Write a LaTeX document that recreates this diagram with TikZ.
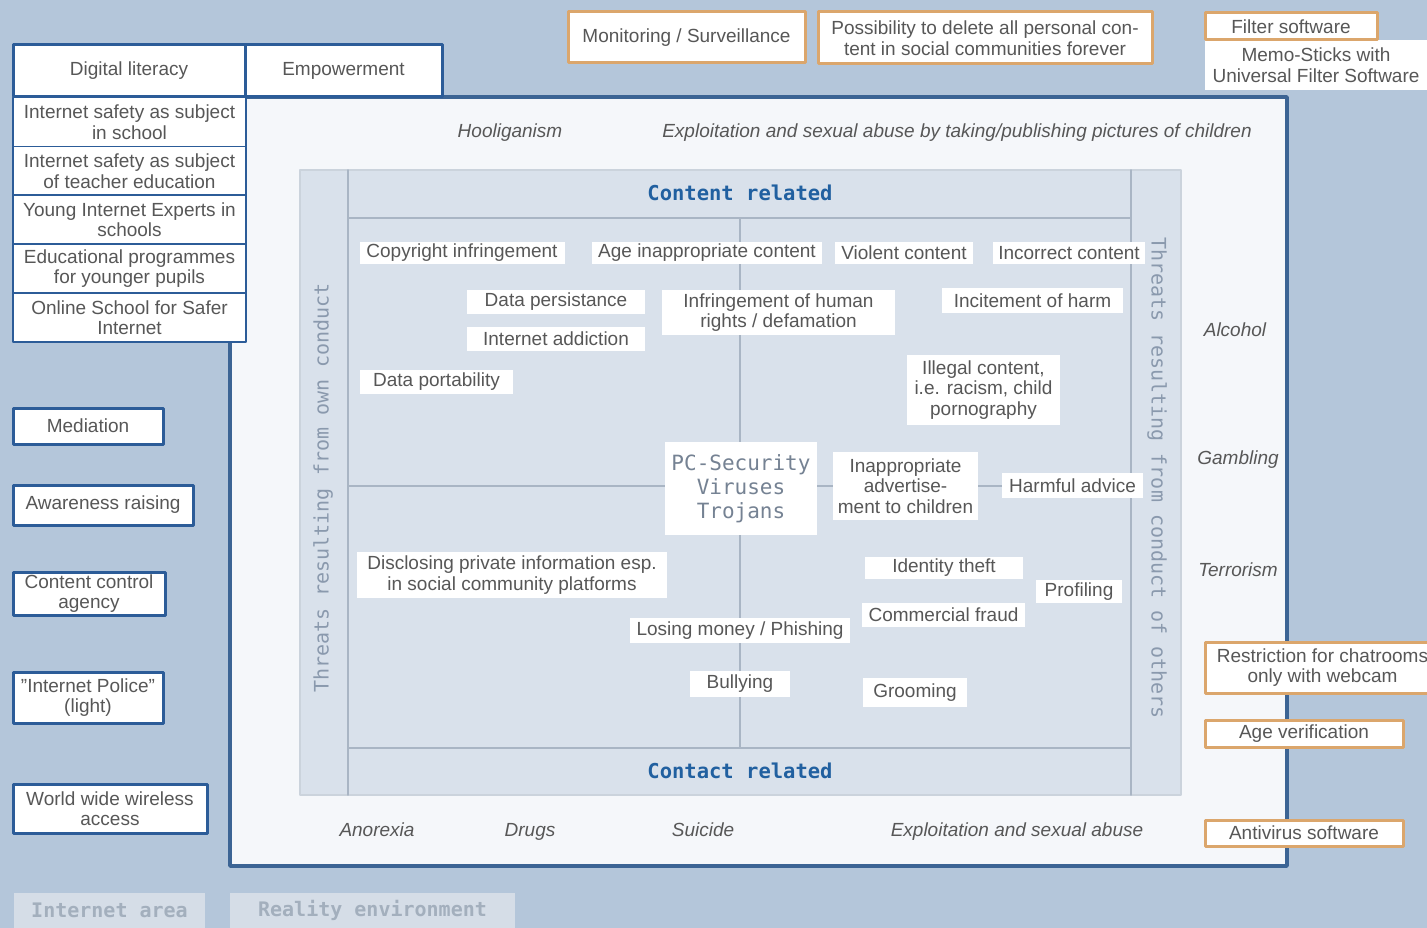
\documentclass[tikz,border=0pt]{standalone}
\usepackage{fontspec}
\setmainfont{Liberation Sans}
\newfontfamily\dvmono{DejaVu Sans Mono}
\usepackage{tikz}
\definecolor{bgblue}{rgb}{0.706,0.776,0.855}
\definecolor{panelwhite}{rgb}{0.961,0.969,0.98}
\definecolor{panelblue}{rgb}{0.235,0.392,0.58}
\definecolor{innerfill}{rgb}{0.851,0.882,0.922}
\definecolor{gridgrey}{rgb}{0.663,0.71,0.769}
\definecolor{boxblue}{rgb}{0.173,0.361,0.596}
\definecolor{boxorange}{rgb}{0.859,0.651,0.424}
\definecolor{headblue}{rgb}{0.129,0.376,0.627}
\definecolor{sidegrey}{rgb}{0.541,0.6,0.678}
\definecolor{txtgrey}{rgb}{0.34,0.34,0.34}
\definecolor{areafill}{rgb}{0.835,0.867,0.906}
\definecolor{areatext}{rgb}{0.639,0.686,0.741}

\begin{document}
\begin{tikzpicture}[line cap=round,line join=round,x=1pt,y=-1pt,
  every node/.style={text=txtgrey,font=\fontsize{19}{20.5}\selectfont},
  bluebox/.style={draw=boxblue,line width=3pt,fill=white,align=center,inner sep=0pt},
  stackbox/.style={draw=boxblue,line width=1.8pt,fill=white,align=center,inner sep=0pt},
  orangebox/.style={draw=boxorange,line width=3pt,fill=white,align=center,inner sep=0pt},
  threat/.style={fill=white,align=center,inner sep=0pt},
  risk/.style={font=\itshape\fontsize{19}{20.5}\selectfont,text height=13.5pt,text depth=4pt},
  crossline/.style={draw=gridgrey,line width=1.6pt},
  headtext/.style={font=\dvmono\bfseries\fontsize{20.5}{22}\selectfont,text=headblue},
  sidetext/.style={font=\dvmono\fontsize{20}{22}\selectfont,text=sidegrey},
  areatag/.style={fill=areafill,text=areatext,font=\dvmono\bfseries\fontsize{20}{22}\selectfont,inner sep=0pt}]
      \useasboundingbox (0,0) rectangle (1427,928);
      \fill[bgblue] (0,0) rectangle (1427,928);
      % reality panel and internet field
      \draw[line width=3.5pt,draw=panelblue,fill=panelwhite] (230,97) rectangle (1287,866);
      \draw[line width=1.2pt,draw=gridgrey!60,fill=innerfill] (300,170) rectangle (1181,795);
      \draw[crossline] (348,170) -- (348,795);
      \draw[crossline] (1131,170) -- (1131,795);
      \draw[crossline] (348,218) -- (1131,218);
      \draw[crossline] (348,748) -- (1131,748);
      \draw[crossline] (740,218) -- (740,748);
      \draw[crossline] (348,486) -- (1131,486);
      \node[headtext] (content) at (740,193) {Content related};
      \node[headtext] (contact) at (740,771) {Contact related};
      \node[sidetext,rotate=90] (own) at (323,488) {Threats resulting from own conduct};
      \node[sidetext,rotate=-90] (others) at (1157,478) {Threats resulting from conduct of others};
      % reality risks
      \node[risk] (hooligan) at (510,133) {Hooliganism};
      \node[risk] (pictures) at (957,133) {Exploitation and sexual abuse by taking/publishing pictures of children};
      \node[risk] (anorexia) at (377,832) {Anorexia};
      \node[risk] (drugs) at (530,832) {Drugs};
      \node[risk] (suicide) at (703,832) {Suicide};
      \node[risk] (abuse) at (1017,832) {Exploitation and sexual abuse};
      \node[risk] (alcohol) at (1235,332) {Alcohol};
      \node[risk] (gambling) at (1238,460) {Gambling};
      \node[risk] (terror) at (1238,572) {Terrorism};
      % internet threats
      \node[threat,minimum width=205,minimum height=22] (copyright) at (462,253) {Copyright infringement};
      \node[threat,minimum width=230,minimum height=22] (ageinapp) at (707,253) {Age inappropriate content};
      \node[threat,minimum width=138,minimum height=22] (violent) at (904,253) {Violent content};
      \node[threat,minimum width=152,minimum height=22] (incorrect) at (1069,253) {Incorrect content};
      \node[threat,minimum width=178,minimum height=24] (persist) at (556,301.5) {Data persistance};
      \node[threat,minimum width=178,minimum height=24] (addict) at (556,338.5) {Internet addiction};
      \node[threat,minimum width=233,minimum height=45] (rights) at (778.5,312.5) {Infringement of human\\rights / defamation};
      \node[threat,minimum width=181,minimum height=25] (incite) at (1032.5,300.5) {Incitement of harm};
      \node[threat,minimum width=153,minimum height=24] (portab) at (436.5,381.5) {Data portability};
      \node[threat,minimum width=153,minimum height=70] (illegal) at (983.5,390) {Illegal content,\\i.e. racism, child\\pornography};
      \node[threat,minimum width=152,minimum height=93,text=sidegrey!85!black,font=\dvmono\fontsize{21}{24}\selectfont] (pcsec) at (741,488.5) {PC-Security\\Viruses\\Trojans};
      \node[threat,minimum width=145,minimum height=68] (advert) at (905.5,486) {Inappropriate\\advertise-\\ment to children};
      \node[threat,minimum width=141,minimum height=25] (harmful) at (1072.5,485.5) {Harmful advice};
      \node[threat,minimum width=310,minimum height=46] (disclose) at (512,575) {Disclosing private information esp.\\in social community platforms};
      \node[threat,minimum width=158,minimum height=22] (identity) at (944,568) {Identity theft};
      \node[threat,minimum width=86,minimum height=23] (profil) at (1079,591.5) {Profiling};
      \node[threat,minimum width=163,minimum height=24] (fraud) at (943.5,615) {Commercial fraud};
      \node[threat,minimum width=220,minimum height=25] (phishing) at (740,630.5) {Losing money / Phishing};
      \node[threat,minimum width=100,minimum height=26] (bully) at (740,684) {Bullying};
      \node[threat,minimum width=104,minimum height=29] (groom) at (915,692.5) {Grooming};
      % empowerment column
      \node[bluebox,minimum width=232,minimum height=52] (diglit) at (129,71) {Digital literacy};
      \node[bluebox,minimum width=197,minimum height=52] (empower) at (343.5,71) {Empowerment};
      \foreach \y/\t [count=\i] in {122/{Internet safety as subject\\in school},
        171/{Internet safety as subject\\of teacher education},
        219.5/{Young Internet Experts in\\schools},
        268.5/{Educational programmes\\for younger pupils},
        317.5/{Online School for Safer\\Internet}}
      \node[stackbox,minimum width=233,minimum height=49] (school\i) at (129.5,\y) {\t};
      \node[bluebox,minimum width=150,minimum height=36] (mediation) at (88,426) {Mediation};
      \node[bluebox,minimum width=180,minimum height=40] (awareness) at (103,505) {Awareness raising};
      \node[bluebox,minimum width=152,minimum height=43] (agency) at (89,593.5) {Content control\\agency};
      \node[bluebox,minimum width=150,minimum height=51] (police) at (88,697.5) {\symbol{34}Internet Police\symbol{34}\\(light)};
      \node[bluebox,minimum width=194,minimum height=49] (wireless) at (110,808.5) {World wide wireless\\access};
      % technical measures
      \node[orangebox,minimum width=237,minimum height=51] (monitor) at (686.5,37.5) {Monitoring / Surveillance};
      \node[orangebox,minimum width=334,minimum height=52] (delete) at (985,38) {Possibility to delete all personal con-\\tent in social communities forever};
      \node[threat,minimum width=222,minimum height=50] (memo) at (1316,65) {Memo-Sticks with\\Universal Filter Software};
      \node[orangebox,minimum width=172,minimum height=27] (filter) at (1291,26.5) {Filter software};
      \node[orangebox,minimum width=235,minimum height=51] (chat) at (1322.5,667.5) {Restriction for chatrooms\\only with webcam};
      \node[orangebox,minimum width=198,minimum height=27] (agever) at (1304,733.5) {Age verification};
      \node[orangebox,minimum width=198,minimum height=26] (antivir) at (1304,833) {Antivirus software};
      % areas
      \node[areatag,minimum width=191,minimum height=35] (internet) at (109.5,910.5) {Internet area};
      \node[areatag,minimum width=285,minimum height=35] (reality) at (372.5,910.5) {Reality environment};
\end{tikzpicture}
\end{document}
